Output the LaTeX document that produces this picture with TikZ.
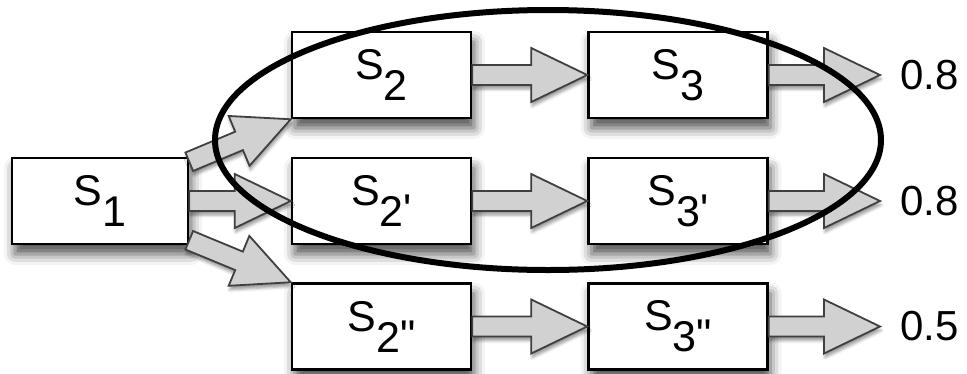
\documentclass[tikz,border=0pt]{standalone}
\usepackage{fontspec}
\newfontfamily\labfont{Liberation Sans}
\usetikzlibrary{calc,shadows.blur}

% state name: capital S with a full-size, lowered index
\newcommand\stname[2]{S\raisebox{-21pt}{#1\raisebox{2pt}{#2}}}

\tikzset{
  x=1pt, y=-1pt,
  statebox/.style={draw=black, line width=2.5pt, fill=white,
    minimum width=179pt, minimum height=86pt, inner sep=0pt,
    font=\labfont\fontsize{43}{50}\selectfont,
    blur shadow={shadow xshift=3pt, shadow yshift=-10pt,
      shadow blur radius=11pt, shadow opacity=70}},
  valuelabel/.style={inner sep=0pt, anchor=west,
    font=\labfont\fontsize{42}{50}\selectfont},
  fat/.style={draw=black!75, fill=black!18, line width=1.8pt, line join=miter,
    blur shadow={shadow xshift=1pt, shadow yshift=-4pt,
      shadow blur radius=3pt, shadow opacity=40},
    to path={let \p1=(\tikztostart), \p2=(\tikztotarget),
      \n1={atan2(\y2-\y1,\x2-\x1)}, \n2={veclen(\x2-\x1,\y2-\y1)} in
      {[shift={(\p1)}, rotate=\n1]
        (0pt,10pt) -- (\n2-56pt,10pt) -- (\n2-56pt,27pt) -- (\n2,0pt)
        -- (\n2-56pt,-27pt) -- (\n2-56pt,-10pt) -- (0pt,-10pt) -- cycle}}},
  ring/.style={draw=black, line width=6pt},
}

\begin{document}
\begin{tikzpicture}
  \useasboundingbox (0,0) rectangle (967,373);

  % states
  \node[statebox, minimum width=176pt] (s1) at (100,201) {\stname{1}{}};
  \node[statebox] (s2)   at (381.5,75)    {\stname{2}{}};
  \node[statebox] (s3)   at (678,75)      {\stname{3}{}};
  \node[statebox] (s2p)  at (381.5,201)   {\stname{2}{\char"27}};
  \node[statebox] (s3p)  at (678,201)     {\stname{3}{\char"27}};
  \node[statebox] (s2pp) at (381.5,326.5) {\stname{2}{\char"22}};
  \node[statebox] (s3pp) at (678,326.5)   {\stname{3}{\char"22}};

  % values
  \node[valuelabel] (v1) at (900,75)    {0.8};
  \node[valuelabel] (v2) at (900,201)   {0.8};
  \node[valuelabel] (v3) at (900,326.5) {0.5};

  % branching from s1
  \draw[fat] ([yshift=-5pt]s1.north east) to (s2.south west);
  \draw[fat] (s1.east) to (s2p.west);
  \draw[fat] ([yshift=5pt]s1.south east) to (s2pp.north west);

  % chains
  \draw[fat] (s2.east) to (s3.west);
  \draw[fat] (s2p.east) to (s3p.west);
  \draw[fat] (s2pp.east) to (s3pp.west);
  \draw[fat] (s3.east) to ([xshift=-20pt]v1.west);
  \draw[fat] (s3p.east) to ([xshift=-20pt]v2.west);
  \draw[fat] (s3pp.east) to ([xshift=-20pt]v3.west);

  % grouping of the two 0.8 chains
  \draw[ring] (548,140) ellipse [x radius=333pt, y radius=130pt];
\end{tikzpicture}
\end{document}
